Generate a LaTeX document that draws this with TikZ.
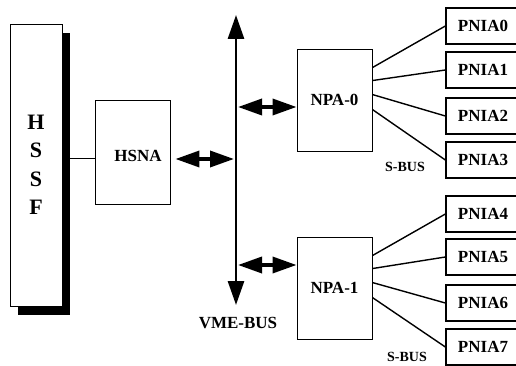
\documentclass[tikz,border=0pt]{standalone}
\usepackage{fontspec}
\setmainfont{Liberation Serif}
\usetikzlibrary{shadows}
\usetikzlibrary{positioning}
\usetikzlibrary{arrows.meta,calc}
\tikzstyle{unit}=[rectangle,draw,fill=white,inner sep=0pt,font=\bfseries\fontsize{17}{20}\selectfont]
\tikzstyle{pnia}=[unit,line width=1.3pt,minimum width=74pt,minimum height=36pt]
\tikzstyle{npa}=[unit,line width=0.9pt,minimum width=75pt,minimum height=102pt]
\tikzstyle{sbus}=[draw,line width=1.4pt]
\tikzstyle{dblarrow}=[draw,line width=3.5pt,{Triangle[length=24pt,width=16pt]}-{Triangle[length=24pt,width=16pt]}]
\tikzstyle{buslabel}=[font=\bfseries\fontsize{14}{16}\selectfont]

\begin{document}
\begin{tikzpicture}[x=1pt,y=-1pt]

 \useasboundingbox (0,0) rectangle (516,366);

 %HSSF
 \node[unit, line width=0.9pt, minimum width=52pt, minimum height=282pt, align=center,
       font=\bfseries\fontsize{22}{28.5}\selectfont,
       drop shadow={shadow xshift=8pt, shadow yshift=-9pt, fill=black, opacity=1}]
       (hssf) at (36,165) {H\\S\\S\\F};

 %HSNA
 \node[npa, minimum height=104pt] (hsna) at (132.5,152) {};
 \node[font=\bfseries\fontsize{17}{20}\selectfont, inner sep=0pt] (hsnatext) at (138,156) {HSNA};

 %VME bus
 \coordinate (bustop) at (236,15);
 \coordinate (busbot) at (236,305);
 \draw[line width=2.8pt, {Triangle[length=24pt,width=16pt]}-{Triangle[length=24pt,width=16pt]}] (bustop) -- (busbot);
 \node[font=\bfseries\fontsize{17}{20}\selectfont, inner sep=0pt] (vme) at (238,323) {VME-BUS};

 \coordinate (busH) at (234,159);
 \coordinate (bus0) at (238,107);
 \coordinate (bus1) at (238,265);

 %NPA
 \foreach \x/\y/\name/\label in {334.5/100/npa0/NPA-0, 334.5/288/npa1/NPA-1}
        \node[npa] (\name) at (\x,\y) {\label};

 %PNIA
 \foreach \x/\y/\name/\label in {483/26/pnia0/PNIA0, 483/70/pnia1/PNIA1, 483/116/pnia2/PNIA2, 483/160/pnia3/PNIA3,
                                 483/214/pnia4/PNIA4, 483/257/pnia5/PNIA5, 483/303/pnia6/PNIA6, 483/347/pnia7/PNIA7}
        \node[pnia] (\name) at (\x,\y) {\label};

 %links
 \draw[line width=1pt] (hssf.east |- busH) -- (hsna.west |- busH);
 \draw[dblarrow] ($(hsna.east |- busH)+(5,0)$) -- (busH);
 \foreach \source in {0,1}
        \draw[dblarrow] (bus\source) -- (npa\source.west |- bus\source);

 \foreach \source/\off/\dest in {npa0/19/pnia0, npa0/32/pnia1, npa0/46/pnia2, npa0/61/pnia3,
                                 npa1/19/pnia4, npa1/32/pnia5, npa1/46/pnia6, npa1/61/pnia7}
        \path[sbus] ($(\source.north east)+(0,\off)$) -- (\dest.west);

 \node[buslabel] (sbus0) at (405,167) {S-BUS};
 \node[buslabel] (sbus1) at (407,357) {S-BUS};

\end{tikzpicture}
\end{document}
